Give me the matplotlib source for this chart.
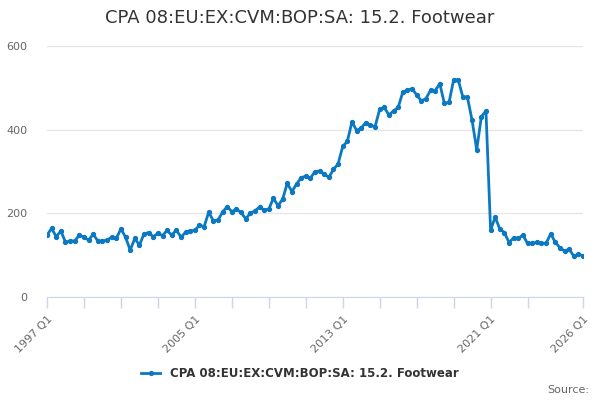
import matplotlib
matplotlib.use("Agg")
import matplotlib.pyplot as plt

title = "CPA 08:EU:EX:CVM:BOP:SA: 15.2. Footwear"
start_year = 1997

# quarterly values, 1997 Q1 .. 2026 Q1
values = [
    148, 164, 144, 158, 131, 134, 134, 148, 143, 136, 150, 134, 134, 136, 143, 140,
    163, 143, 112, 140, 124, 151, 154, 144, 152, 147, 159, 148, 160, 143, 155, 158,
    159, 172, 168, 203, 182, 184, 203, 216,
    204, 210, 202, 187, 200, 206, 215, 208, 210, 236, 218, 234, 272, 252, 270, 285,
    289, 284, 300, 301, 294, 286, 305, 318,
    360, 372, 419, 398, 404, 417, 411, 407, 449, 453, 435, 445, 453, 490, 494, 498,
    483, 469, 474, 494, 493, 510, 463, 465, 519, 519, 478, 477, 422, 352, 431, 445,
    160, 191, 162, 154, 130, 142, 140, 148, 128, 128, 131, 128, 128, 151, 131, 118,
    110, 114, 98, 102, 99,
]

labels = [f"{start_year + i // 4} Q{i % 4 + 1}" for i in range(len(values))]
x = list(range(len(values)))

tick_pos = list(range(0, len(values) - 8, 8)) + [len(values) - 1]
label_pos = [0, 32, 64, 96, len(values) - 1]

fig = plt.figure(figsize=(6, 4), dpi=100)
ax = fig.add_axes([47 / 600, 1 - 297 / 400, 536 / 600, 251 / 400])

blue = "#0b79c1"
ax.plot(x, values, color=blue, lw=2, marker="o", ms=2.8, label=title, zorder=3)

ax.set_xlim(0, len(values) - 1)
ax.set_ylim(0, 600)
ax.set_yticks([0, 200, 400, 600])
ax.grid(axis="y", color="#e6e6e6", lw=1)
ax.set_axisbelow(True)

ax.set_xticks(tick_pos)
ax.set_xticklabels([labels[p] if p in label_pos else "" for p in tick_pos],
                   rotation=45, ha="right", rotation_mode="anchor")
ax.tick_params(axis="x", length=8, width=1, color="#ccd6eb", labelcolor="#666666",
               labelsize=8, pad=4)
ax.tick_params(axis="y", length=0, labelcolor="#666666", labelsize=8, pad=14)

for s in ["top", "right", "left"]:
    ax.spines[s].set_visible(False)
ax.spines["bottom"].set_color("#ccd6eb")

fig.text(0.5, 0.955, title, ha="center", va="center", fontsize=13, color="#333333")

leg = fig.legend(loc="center", bbox_to_anchor=(0.5, 0.067), frameon=False,
                 handlelength=1.6, prop={"size": 8.5, "weight": "bold"})
for t in leg.get_texts():
    t.set_color("#333333")

fig.text(0.982, 0.025, "Source:", ha="right", va="center", fontsize=8, color="#666666")

fig.savefig("out.png", dpi=100)
